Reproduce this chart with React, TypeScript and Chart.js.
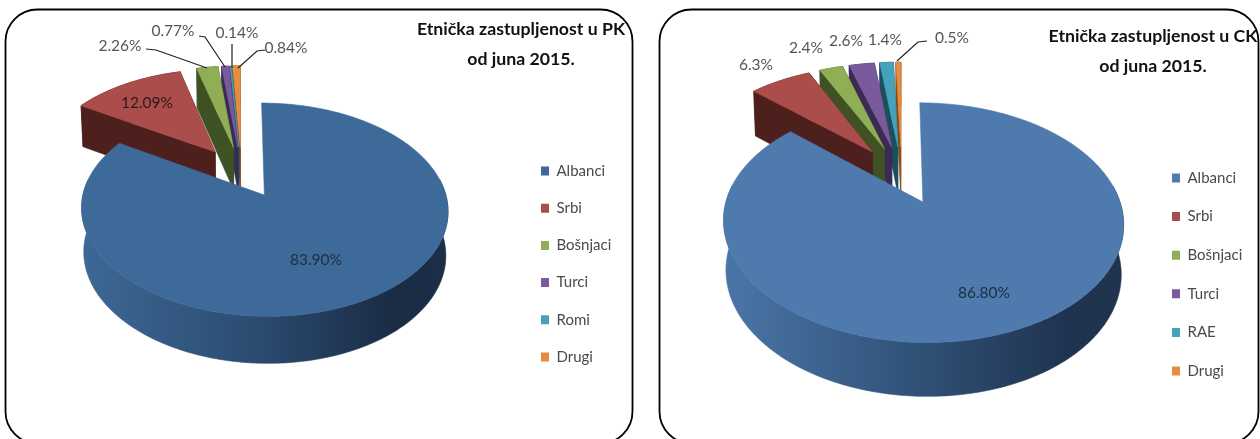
import React, { useEffect, useRef } from "react";
import { Chart, registerables } from "chart.js";

Chart.register(...registerables);

// ---- data ----
const categoriesPK = ["Albanci", "Srbi", "Bošnjaci", "Turci", "Romi", "Drugi"];
const valuesPK = [83.9, 12.09, 2.26, 0.77, 0.14, 0.84];
const labelsPK = ["83.90%", "12.09%", "2.26%", "0.77%", "0.14%", "0.84%"];
const titlePK = ["Etnička zastupljenost u PK", "od juna 2015."];

const categoriesCK = ["Albanci", "Srbi", "Bošnjaci", "Turci", "RAE", "Drugi"];
const valuesCK = [86.8, 6.3, 2.4, 2.6, 1.4, 0.5];
const labelsCK = ["86.80%", "6.3%", "2.4%", "2.6%", "1.4%", "0.5%"];
const titleCK = ["Etnička zastupljenost u CK", "od juna 2015."];

// ---- styles ----
const FONT = "Lato, 'Open Sans', sans-serif";
const topColorsPK = ["#3e6a99", "#aa4d4b", "#8fae56", "#7a5a9c", "#46a1bb", "#e48c3f"];
const topColorsCK = ["#4e7aae", "#aa4d4b", "#8fae56", "#7a5a9c", "#46a1bb", "#e48c3f"];
const sideColors = ["#2a4a6e", "#4e201d", "#3f5224", "#3a2a55", "#1c4f5e", "#8a4a14"];

type Lbl = { x: number; y: number; color: string; line?: number[][] };

const layoutPK = {
  frame: { x: 5.5, y: 9.5, w: 627, h: 434, r: 32 },
  disc: { cx: 241.5, cy: 172, rx: 176, ry: 98.4, k: 0.133, depth: 43, explode: 0.26 },
  wallStops: ["#3d6895", "#2a4a6e", "#1a2b44", "#1c2e48"],
  legend: { x: 541, y: 171, gap: 37.2 },
  title: { x: 521, y: 29 },
  labels: [
    { x: 316, y: 260, color: "#1f2d40" },
    { x: 147, y: 103, color: "#2b1a1a" },
    { x: 120, y: 46, color: "#555555", line: [[146, 49], [156, 50], [207, 68]] },
    { x: 173, y: 31, color: "#555555", line: [[199, 36], [205, 37], [225, 67]] },
    { x: 237, y: 33, color: "#555555", line: [[232, 44], [232, 68]] },
    { x: 286, y: 48, color: "#555555", line: [[265, 50], [257, 51], [238, 68]] },
  ] as Lbl[],
};

const layoutCK = {
  frame: { x: 659.5, y: 9.5, w: 599, h: 434, r: 32 },
  disc: { cx: 901.5, cy: 174.5, rx: 189, ry: 107, k: 0.165, depth: 48, explode: 0.27 },
  wallStops: ["#4a76a8", "#2f5075", "#1f3350", "#20344f"],
  legend: { x: 1172, y: 178, gap: 38.6 },
  title: { x: 1153, y: 36 },
  labels: [
    { x: 984, y: 293, color: "#1f2d40" },
    { x: 756, y: 65, color: "#555555" },
    { x: 806, y: 48, color: "#555555" },
    { x: 846, y: 41, color: "#555555" },
    { x: 885, y: 40, color: "#555555" },
    { x: 952, y: 38, color: "#555555", line: [[927, 41], [918, 42], [897, 61]] },
  ] as Lbl[],
};

// ---- tilted 3D pie drawn from the arc elements' angles ----
const pie3d = {
  id: "pie3d",
  afterLayout(chart: any, _a: any, o: any) {
    const { legend, title } = o;
    const L = chart.legend;
    const pad = L.options.labels.padding;
    L.left = legend.x - pad;
    L.right = L.left + 200;
    L.top = legend.y - 7.5 - pad;
    L.bottom = 439;
    const T = chart.titleBlock;
    const lh = T.options.font.size * T.options.font.lineHeight;
    T.left = title.x - 200;
    T.right = title.x + 200;
    T.top = title.y - lh / 2;
    T.bottom = T.top + 2 * lh;
  },
  beforeDraw(chart: any, _a: any, o: any) {
    const c = chart.ctx;
    const f = o.frame;
    c.save();
    c.strokeStyle = "#000";
    c.lineWidth = 1.8;
    c.beginPath();
    c.roundRect(f.x, f.y, f.w, f.h, f.r);
    c.stroke();
    c.restore();
  },
  beforeDatasetsDraw(chart: any, _a: any, o: any) {
    const c = chart.ctx;
    const { cx, cy, rx, ry, k, depth, explode } = o.disc;
    const arcs = chart.getDatasetMeta(0).data;
    const colors = chart.data.datasets[0].backgroundColor;

    const proj = (u: number, v: number) => {
      const s = 1 / (1 - k * v);
      return { x: cx + rx * u * s, y: cy + ry * v * s, s };
    };
    const dropAbout = (mx: number) => (p: any) => ({
      x: mx + (p.x - mx) * 0.988,
      y: p.y + depth * Math.sqrt(p.s),
    });
    const poly = (pts: any[], fill: any) => {
      c.fillStyle = fill;
      c.strokeStyle = fill;
      c.lineWidth = 0.6;
      c.beginPath();
      pts.forEach((p, i) => (i ? c.lineTo(p.x, p.y) : c.moveTo(p.x, p.y)));
      c.closePath();
      c.fill();
      c.stroke();
    };

    const shape = (el: any) => {
      const a0 = el.startAngle;
      const a1 = el.endAngle;
      const m = (a0 + a1) / 2;
      const u0 = explode * Math.cos(m);
      const v0 = explode * Math.sin(m);
      const n = Math.max(2, Math.ceil(((a1 - a0) * 180) / Math.PI));
      const rim: any[] = [];
      const front: any[] = [];
      for (let i = 0; i <= n; i++) {
        const a = a0 + ((a1 - a0) * i) / n;
        const p = proj(u0 + Math.cos(a), v0 + Math.sin(a));
        rim.push(p);
        if (Math.sin(a) >= -0.15) front.push(p);
      }
      return { tip: proj(u0, v0), rim, front };
    };

    // smaller slices first, right to left, then the large one in front
    for (let i = arcs.length - 1; i >= 1; i--) {
      const { tip, rim } = shape(arcs[i]);
      const pts = [tip, ...rim];
      const drop = dropAbout(cx);
      pts.forEach((p, j) => {
        const q = pts[(j + 1) % pts.length];
        poly([p, q, drop(q), drop(p)], sideColors[i]);
      });
      poly(pts, colors[i]);
    }

    const { tip, rim, front } = shape(arcs[0]);
    const xs = rim.map((p) => p.x);
    const x0 = Math.min(...xs);
    const x1 = Math.max(...xs);
    const g = c.createLinearGradient(x0, 0, x1, 0);
    const st = o.wallStops;
    g.addColorStop(0, st[0]);
    g.addColorStop(0.5, st[1]);
    g.addColorStop(0.86, st[2]);
    g.addColorStop(1, st[3]);
    poly([...front, ...front.map(dropAbout((x0 + x1) / 2)).reverse()], g);
    poly([tip, ...rim], colors[0]);

    // value labels and leader lines
    c.save();
    c.font = `15.5px ${FONT}`;
    c.textAlign = "center";
    c.textBaseline = "middle";
    o.labels.forEach((l: Lbl, i: number) => {
      if (l.line) {
        c.strokeStyle = "#222";
        c.lineWidth = 1.2;
        c.beginPath();
        l.line.forEach((p, j) => (j ? c.lineTo(p[0], p[1]) : c.moveTo(p[0], p[1])));
        c.stroke();
      }
      c.fillStyle = l.color;
      c.fillText(o.texts[i], l.x, l.y);
    });
    c.restore();
    return false;
  },
};

function makeConfig(categories: string[], values: number[], texts: string[], title: string[], colors: string[], layout: any) {
  return {
    type: "pie" as const,
    data: {
      labels: categories,
      datasets: [{ data: values, backgroundColor: colors, borderWidth: 0 }],
    },
    options: {
      responsive: false,
      animation: false as const,
      events: [],
      plugins: {
        tooltip: { enabled: false },
        title: {
          display: true,
          text: title,
          color: "#111",
          padding: 0,
          font: { family: FONT, size: 17.7, weight: "bold" as const, lineHeight: 1.695 },
        },
        legend: {
          position: "right" as const,
          align: "start" as const,
          labels: {
            boxWidth: 8,
            boxHeight: 9,
            padding: layout.legend.gap - 15,
            color: "#4a4a4a",
            font: { family: FONT, size: 15 },
          },
        },
        pie3d: { ...layout, texts },
      },
    },
    plugins: [pie3d],
  };
}

const layerStyle: React.CSSProperties = { position: "absolute", left: 0, top: 0, width: 1260, height: 439, display: "block", filter: "blur(0.55px)" };

export default function App() {
  const a = useRef<HTMLCanvasElement>(null);
  const b = useRef<HTMLCanvasElement>(null);
  useEffect(() => {
    const c1 = new Chart(a.current!, makeConfig(categoriesPK, valuesPK, labelsPK, titlePK, topColorsPK, layoutPK) as any);
    const c2 = new Chart(b.current!, makeConfig(categoriesCK, valuesCK, labelsCK, titleCK, topColorsCK, layoutCK) as any);
    return () => {
      c1.destroy();
      c2.destroy();
    };
  }, []);
  return (
    <div style={{ position: "absolute", left: 0, top: 0, width: 1260, height: 439, overflow: "hidden", background: "#fff" }}>
      <canvas ref={a} width={1260} height={439} style={layerStyle} />
      <canvas ref={b} width={1260} height={439} style={layerStyle} />
    </div>
  );
}
